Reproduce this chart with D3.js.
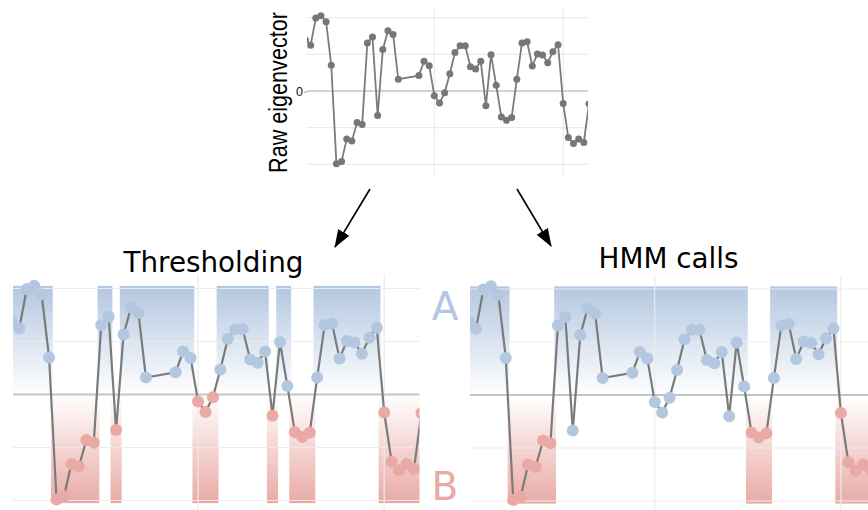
<!DOCTYPE html>
<html>
<head>
<meta charset="utf-8">
<script src="https://cdn.jsdelivr.net/npm/d3@7"></script>
<style>
body { margin: 0; background: #fff; }
svg { display: block; }
</style>
</head>
<body>
<script>
// eigenvector value per bin, null = masked bin (line just skips it)
var values = [1.39, 1.25, 1.99, 2.05, 1.89, 0.70, -1.98, -1.92, -1.31, -1.36,
    -0.86, -0.91, 1.31, 1.47, -0.67, 1.13, 1.64, 1.54, 0.32, null,
    null, null, 0.42, 0.81, 0.69, -0.13, -0.33, -0.05, 0.47, 1.05,
    1.23, 1.23, 0.66, 0.60, 0.81, -0.40, 0.99, 0.16, -0.71, -0.80,
    -0.72, 0.32, 1.31, 1.34, 0.68, 1.01, 0.98, 0.77, 1.07, 1.26,
    -0.34, -1.27, -1.43, -1.31, -1.40, -0.35];

// HMM state calls as [state, first bin, last bin]
var hmmRuns = [["A", 0, 5], ["B", 6, 11], ["A", 12, 37], ["B", 38, 40], ["A", 41, 49], ["B", 50, 55]];

var yTicks = [-2, -1, 0, 1, 2];
var xTicks = [0, 25, 50];
var titles = ["Thresholding", "HMM calls"];
var stateLabels = ["A", "B"];

var colA = "#b3c7e0", colB = "#e9aaa5";

var pts = values.map(function (v, i) { return {bin: i, v: v}; })
    .filter(function (d) { return d.v !== null; });

// thresholding: call by sign, then group consecutive bins into runs
function threshState(d) { return d.v >= 0 ? "A" : "B"; }
function hmmState(d) {
    for (var k = 0; k < hmmRuns.length; k++)
        if (d.bin >= hmmRuns[k][1] && d.bin <= hmmRuns[k][2]) return hmmRuns[k][0];
}
function runsFrom(stateFn) {
    var runs = [];
    pts.forEach(function (d) {
        var s = stateFn(d), last = runs[runs.length - 1];
        if (last && last[0] === s) last[2] = d.bin;
        else runs.push([s, d.bin, d.bin]);
    });
    return runs;
}

var svg = d3.select("body").append("svg")
    .attr("width", 868).attr("height", 510);

var defs = svg.append("defs");
var gA = defs.append("linearGradient").attr("id", "gradA")
    .attr("x1", 0).attr("y1", 0).attr("x2", 0).attr("y2", 1);
gA.append("stop").attr("offset", 0).attr("stop-color", colA).attr("stop-opacity", 1);
gA.append("stop").attr("offset", 1).attr("stop-color", colA).attr("stop-opacity", 0);
var gB = defs.append("linearGradient").attr("id", "gradB")
    .attr("x1", 0).attr("y1", 0).attr("x2", 0).attr("y2", 1);
gB.append("stop").attr("offset", 0).attr("stop-color", colB).attr("stop-opacity", 0);
gB.append("stop").attr("offset", 1).attr("stop-color", colB).attr("stop-opacity", 1);

defs.append("marker").attr("id", "head")
    .attr("viewBox", "0 0 18 13").attr("refX", 17).attr("refY", 6.5)
    .attr("markerWidth", 18).attr("markerHeight", 13)
    .attr("markerUnits", "userSpaceOnUse").attr("orient", "auto")
    .append("path").attr("d", "M0,0L18,6.5L0,13z").attr("fill", "#000");

function panel(o) {
    var x = d3.scaleLinear().domain([0, 55]).range([o.x0, o.x0 + 55 * o.step]);
    var y = d3.scaleLinear().domain([-2, 2]).range([o.zeroY + 2 * o.unit, o.zeroY - 2 * o.unit]);

    defs.append("clipPath").attr("id", o.id)
        .append("rect").attr("x", o.clip[0]).attr("y", o.clip[2])
        .attr("width", o.clip[1] - o.clip[0]).attr("height", o.clip[3] - o.clip[2]);
    var g = svg.append("g").attr("clip-path", "url(#" + o.id + ")");

    if (o.runs) {
        g.selectAll("rect.band").data(o.runs).enter().append("rect")
            .attr("class", "band")
            .attr("x", function (r) { return x(r[1] - 0.5 - (r[0] === "B" ? 0.25 : 0)); })
            .attr("width", function (r) { return x(r[2] + 0.5) - x(r[1] - 0.5) + (r[0] === "B" ? o.step * 0.5 : 0); })
            .attr("y", function (r) { return r[0] === "A" ? y(2.05) : y(0); })
            .attr("height", function (r) { return r[0] === "A" ? y(0) - y(2.05) : y(-2.05) - y(0); })
            .attr("fill", function (r) { return r[0] === "A" ? "url(#gradA)" : "url(#gradB)"; });
    }

    g.selectAll("line.hg").data(yTicks.filter(function (t) { return t !== 0; })).enter()
        .append("line").attr("class", "hg")
        .attr("x1", o.clip[0]).attr("x2", o.clip[1])
        .attr("y1", function (t) { return y(t); }).attr("y2", function (t) { return y(t); })
        .attr("stroke", "#ebebeb").attr("stroke-width", 1.2);
    g.selectAll("line.vg").data(xTicks).enter()
        .append("line").attr("class", "vg")
        .attr("x1", function (t) { return x(t); }).attr("x2", function (t) { return x(t); })
        .attr("y1", o.clip[2]).attr("y2", o.clip[3])
        .attr("stroke", "#ebebeb").attr("stroke-width", 1.2);
    g.append("line")
        .attr("x1", o.clip[0]).attr("x2", o.clip[1])
        .attr("y1", y(0)).attr("y2", y(0))
        .attr("stroke", "#c4c4c4").attr("stroke-width", o.zeroW);

    g.append("path").datum(pts)
        .attr("d", d3.line().x(function (d) { return x(d.bin); }).y(function (d) { return y(d.v); }))
        .attr("fill", "none").attr("stroke", "#7b7b7b").attr("stroke-width", o.lineW);

    g.selectAll("circle").data(pts).enter().append("circle")
        .attr("cx", function (d) { return x(d.bin); })
        .attr("cy", function (d) { return y(d.v); })
        .attr("r", o.r)
        .attr("fill", function (d) {
            if (!o.state) return "#777";
            return o.state(d) === "A" ? colA : colB;
        });
    return {x: x, y: y};
}

// raw eigenvector
var rawPanel = panel({id: "cTop", x0: 305.5, step: 5.154, zeroY: 91, unit: 36.7,
    clip: [307, 588, 9, 175], r: 3.5, lineW: 1.8, zeroW: 1.5});

svg.append("g").attr("transform", "translate(307,0.5)")
    .call(d3.axisLeft(rawPanel.y).tickValues([0]).tickFormat(d3.format("d"))
        .tickSize(3).tickPadding(1))
    .call(function (a) {
        a.select(".domain").remove();
        a.selectAll("line").attr("stroke", "#999");
        a.selectAll("text").attr("font-family", "Liberation Sans, Arial, sans-serif")
            .attr("font-size", 12.5).attr("fill", "#111");
    });

// tall, narrow axis title (stretched across the reading direction)
svg.append("text")
    .attr("transform", "translate(287,92.5) rotate(-90) scale(1,1.18)")
    .attr("text-anchor", "middle")
    .attr("font-family", "Liberation Sans, Arial, sans-serif")
    .attr("font-size", 21.6).attr("fill", "#000")
    .text("Raw eigenvector");

// thresholding and HMM panels
panel({id: "cLeft", x0: 11.85, step: 7.447, zeroY: 394.5, unit: 53,
    clip: [13, 419.5, 275, 510], r: 6, lineW: 2.2, zeroW: 2,
    runs: runsFrom(threshState), state: threshState});
panel({id: "cRight", x0: 468.55, step: 7.447, zeroY: 395, unit: 53,
    clip: [470, 880, 275, 510], r: 6, lineW: 2.2, zeroW: 2,
    runs: hmmRuns, state: hmmState});

svg.selectAll("text.title").data(titles).enter().append("text")
    .attr("class", "title")
    .attr("x", function (d, i) { return i === 0 ? 213.5 : 668.5; })
    .attr("y", function (d, i) { return i === 0 ? 272 : 267.5; })
    .attr("text-anchor", "middle")
    .attr("font-family", "DejaVu Sans, sans-serif")
    .attr("font-size", 27.8).attr("fill", "#000")
    .text(function (d) { return d; });

svg.selectAll("text.state").data(stateLabels).enter().append("text")
    .attr("class", "state")
    .attr("x", 445)
    .attr("y", function (d, i) { return i === 0 ? 320 : 500; })
    .attr("text-anchor", "middle")
    .attr("font-family", "DejaVu Sans, sans-serif")
    .attr("font-size", 39)
    .attr("fill", function (d) { return d === "A" ? colA : colB; })
    .text(function (d) { return d; });

// arrows from the raw track down to each method
svg.selectAll("line.arrow").data([[370, 189, 335, 247], [517, 189, 551, 246]]).enter()
    .append("line").attr("class", "arrow")
    .attr("x1", function (d) { return d[0]; }).attr("y1", function (d) { return d[1]; })
    .attr("x2", function (d) { return d[2]; }).attr("y2", function (d) { return d[3]; })
    .attr("stroke", "#000").attr("stroke-width", 1.6)
    .attr("marker-end", "url(#head)");
</script>
</body>
</html>
